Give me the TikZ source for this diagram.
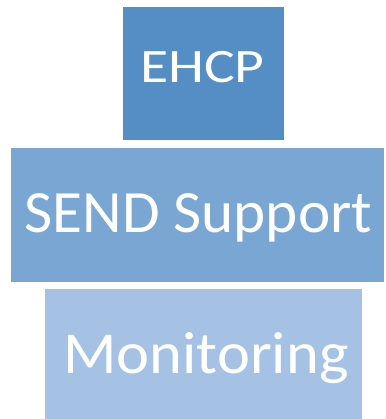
\documentclass[tikz,border=0pt]{standalone}
\usepackage{fontspec}
\setmainfont{Carlito}
\definecolor{cEHCP}{HTML}{558DC5}
\definecolor{cSEND}{HTML}{7AA6D3}
\definecolor{cMon}{HTML}{A5C2E5}
\tikzset{
  blockbox/.style={rectangle, draw=none, inner sep=0pt, anchor=north west},
  blocktext/.style={text=white, inner sep=0pt, anchor=base, transform shape},
}
\begin{document}
\begin{tikzpicture}[x=1pt,y=-1pt]
\useasboundingbox (0,0) rectangle (385,419);
\node[blockbox, fill=cEHCP, minimum width=161pt, minimum height=133pt] (ehcp) at (123,7) {};
\node[blockbox, fill=cSEND, minimum width=373pt, minimum height=134pt] (send) at (11,148) {};
\node[blockbox, fill=cMon, minimum width=317pt, minimum height=130pt] (mon) at (45,289) {};
\node[blocktext, xscale=1.2, font=\fontsize{48}{52}\selectfont] (tehcp) at (202.5,82.5) {EHCP};
\node[blocktext, xscale=1.02, font=\fontsize{60}{64}\selectfont] (tsend) at (198.5,232) {SEND Support};
\node[blocktext, xscale=1.05, font=\fontsize{59.5}{64}\selectfont] (tmon) at (206,373) {Monitoring};
\end{tikzpicture}
\end{document}
